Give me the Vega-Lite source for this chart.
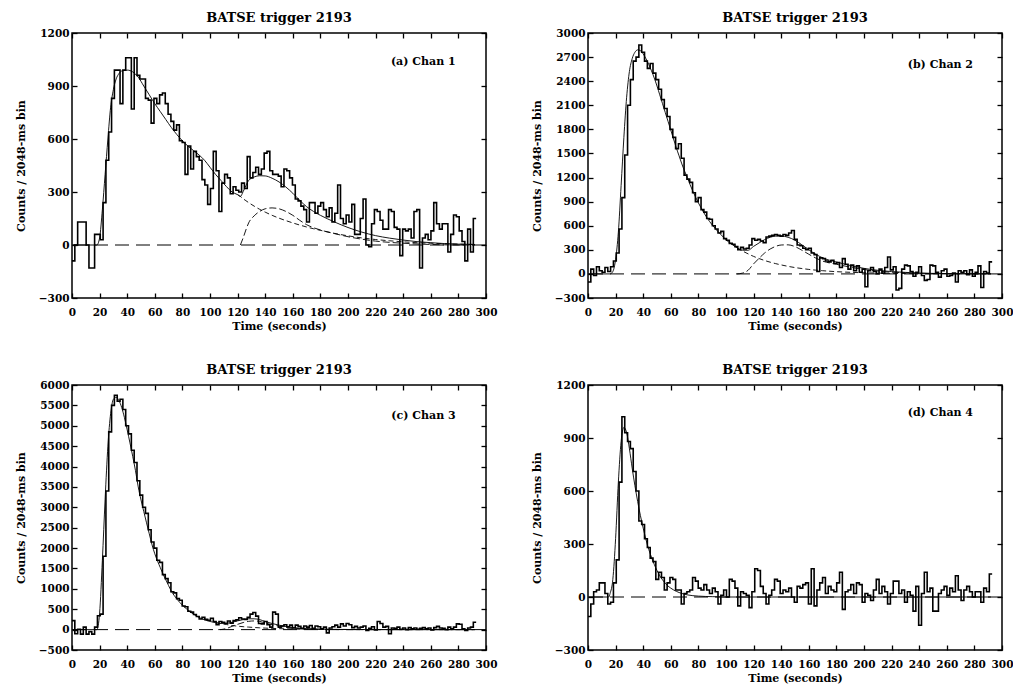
{
"$schema": "https://vega.github.io/schema/vega-lite/v6.json",
"background": "white",
"padding": {"left": 14, "top": 11, "right": 5, "bottom": 5},
"bounds": "flush",
"columns": 2,
"spacing": {"row": 87, "column": 102},
"datasets": {
"hist": [
{"t":0,"a":-90,"b":-100,"c":220,"d":-110},
{"t":2.05,"a":0,"b":60,"c":-100,"d":-40},
{"t":4.1,"a":130,"b":-20,"c":10,"d":30},
{"t":6.14,"a":130,"b":90,"c":-110,"d":40},
{"t":8.19,"a":130,"b":40,"c":60,"d":80},
{"t":10.24,"a":0,"b":20,"c":-110,"d":80},
{"t":12.29,"a":-130,"b":80,"c":-50,"d":20},
{"t":14.34,"a":-130,"b":30,"c":-110,"d":-40},
{"t":16.38,"a":60,"b":90,"c":60,"d":-30},
{"t":18.43,"a":60,"b":160,"c":340,"d":80},
{"t":20.48,"a":30,"b":260,"c":380,"d":210},
{"t":22.53,"a":240,"b":560,"c":1800,"d":650},
{"t":24.58,"a":480,"b":950,"c":3400,"d":1020},
{"t":26.62,"a":640,"b":1480,"c":4850,"d":930},
{"t":28.67,"a":830,"b":2100,"c":5500,"d":880},
{"t":30.72,"a":990,"b":2420,"c":5750,"d":840},
{"t":32.77,"a":990,"b":2650,"c":5600,"d":710},
{"t":34.82,"a":800,"b":2700,"c":5650,"d":600},
{"t":36.86,"a":990,"b":2850,"c":5400,"d":430},
{"t":38.91,"a":1060,"b":2760,"c":5000,"d":410},
{"t":40.96,"a":1060,"b":2650,"c":4800,"d":330},
{"t":43.01,"a":770,"b":2560,"c":4400,"d":280},
{"t":45.06,"a":1060,"b":2620,"c":4100,"d":220},
{"t":47.1,"a":960,"b":2500,"c":3650,"d":200},
{"t":49.15,"a":940,"b":2420,"c":3300,"d":100},
{"t":51.2,"a":940,"b":2300,"c":3000,"d":140},
{"t":53.25,"a":830,"b":2170,"c":2850,"d":110},
{"t":55.3,"a":820,"b":2060,"c":2450,"d":40},
{"t":57.34,"a":690,"b":1960,"c":2150,"d":80},
{"t":59.39,"a":830,"b":1800,"c":2000,"d":110},
{"t":61.44,"a":800,"b":1700,"c":1700,"d":100},
{"t":63.49,"a":850,"b":1560,"c":1650,"d":40},
{"t":65.54,"a":860,"b":1620,"c":1350,"d":40},
{"t":67.58,"a":800,"b":1440,"c":1250,"d":-40},
{"t":69.63,"a":740,"b":1230,"c":1150,"d":20},
{"t":71.68,"a":700,"b":1180,"c":930,"d":30},
{"t":73.73,"a":650,"b":1140,"c":900,"d":40},
{"t":75.78,"a":680,"b":1010,"c":760,"d":110},
{"t":77.82,"a":590,"b":900,"c":720,"d":90},
{"t":79.87,"a":580,"b":950,"c":580,"d":50},
{"t":81.92,"a":400,"b":800,"c":560,"d":40},
{"t":83.97,"a":560,"b":770,"c":450,"d":70},
{"t":86.02,"a":430,"b":690,"c":430,"d":40},
{"t":88.06,"a":530,"b":680,"c":370,"d":20},
{"t":90.11,"a":500,"b":600,"c":320,"d":50},
{"t":92.16,"a":480,"b":560,"c":260,"d":30},
{"t":94.21,"a":370,"b":510,"c":300,"d":-40},
{"t":96.26,"a":340,"b":530,"c":250,"d":10},
{"t":98.3,"a":230,"b":440,"c":230,"d":40},
{"t":100.35,"a":320,"b":420,"c":280,"d":0},
{"t":102.4,"a":530,"b":380,"c":200,"d":100},
{"t":104.45,"a":420,"b":370,"c":120,"d":90},
{"t":106.5,"a":190,"b":340,"c":200,"d":50},
{"t":108.54,"a":350,"b":300,"c":180,"d":-50},
{"t":110.59,"a":400,"b":330,"c":150,"d":30},
{"t":112.64,"a":380,"b":310,"c":210,"d":20},
{"t":114.69,"a":290,"b":320,"c":160,"d":10},
{"t":116.74,"a":330,"b":360,"c":220,"d":-60},
{"t":118.78,"a":310,"b":440,"c":240,"d":30},
{"t":120.83,"a":300,"b":420,"c":290,"d":160},
{"t":122.88,"a":350,"b":430,"c":260,"d":150},
{"t":124.93,"a":320,"b":410,"c":250,"d":60},
{"t":126.98,"a":500,"b":390,"c":300,"d":20},
{"t":129.02,"a":380,"b":460,"c":380,"d":-40},
{"t":131.07,"a":410,"b":470,"c":420,"d":10},
{"t":133.12,"a":440,"b":480,"c":330,"d":40},
{"t":135.17,"a":400,"b":490,"c":150,"d":100},
{"t":137.22,"a":430,"b":480,"c":140,"d":90},
{"t":139.26,"a":520,"b":470,"c":200,"d":20},
{"t":141.31,"a":530,"b":490,"c":120,"d":40},
{"t":143.36,"a":420,"b":480,"c":60,"d":30},
{"t":145.41,"a":400,"b":510,"c":430,"d":50},
{"t":147.46,"a":400,"b":540,"c":380,"d":0},
{"t":149.5,"a":390,"b":430,"c":60,"d":-30},
{"t":151.55,"a":330,"b":360,"c":90,"d":60},
{"t":153.6,"a":430,"b":350,"c":120,"d":50},
{"t":155.65,"a":420,"b":320,"c":70,"d":70},
{"t":157.7,"a":380,"b":300,"c":110,"d":80},
{"t":159.74,"a":340,"b":320,"c":40,"d":-40},
{"t":161.79,"a":260,"b":260,"c":110,"d":160},
{"t":163.84,"a":250,"b":240,"c":80,"d":-50},
{"t":165.89,"a":220,"b":30,"c":30,"d":40},
{"t":167.94,"a":200,"b":200,"c":90,"d":80},
{"t":169.98,"a":130,"b":190,"c":60,"d":110},
{"t":172.03,"a":240,"b":160,"c":100,"d":20},
{"t":174.08,"a":240,"b":150,"c":30,"d":60},
{"t":176.13,"a":180,"b":170,"c":90,"d":40},
{"t":178.18,"a":220,"b":130,"c":70,"d":30},
{"t":180.22,"a":240,"b":140,"c":20,"d":80},
{"t":182.27,"a":200,"b":80,"c":60,"d":140},
{"t":184.32,"a":160,"b":190,"c":-80,"d":-70},
{"t":186.37,"a":210,"b":120,"c":40,"d":30},
{"t":188.42,"a":130,"b":60,"c":70,"d":40},
{"t":190.46,"a":180,"b":110,"c":110,"d":70},
{"t":192.51,"a":340,"b":40,"c":60,"d":20},
{"t":194.56,"a":150,"b":100,"c":140,"d":80},
{"t":196.61,"a":120,"b":20,"c":90,"d":70},
{"t":198.66,"a":170,"b":60,"c":150,"d":-30},
{"t":200.7,"a":130,"b":-160,"c":120,"d":20},
{"t":202.75,"a":230,"b":40,"c":50,"d":10},
{"t":204.8,"a":60,"b":80,"c":80,"d":-20},
{"t":206.85,"a":60,"b":30,"c":40,"d":40},
{"t":208.9,"a":150,"b":0,"c":60,"d":100},
{"t":210.94,"a":260,"b":60,"c":90,"d":20},
{"t":212.99,"a":0,"b":10,"c":-20,"d":60},
{"t":215.04,"a":-10,"b":80,"c":30,"d":30},
{"t":217.09,"a":120,"b":210,"c":70,"d":-40},
{"t":219.14,"a":200,"b":50,"c":-10,"d":20},
{"t":221.18,"a":190,"b":90,"c":200,"d":90},
{"t":223.23,"a":140,"b":-200,"c":150,"d":90},
{"t":225.28,"a":90,"b":-180,"c":60,"d":20},
{"t":227.33,"a":90,"b":60,"c":80,"d":40},
{"t":229.38,"a":200,"b":110,"c":-100,"d":-30},
{"t":231.42,"a":190,"b":100,"c":40,"d":30},
{"t":233.47,"a":100,"b":30,"c":30,"d":10},
{"t":235.52,"a":90,"b":-30,"c":60,"d":-80},
{"t":237.57,"a":-60,"b":20,"c":10,"d":60},
{"t":239.62,"a":90,"b":90,"c":40,"d":-160},
{"t":241.66,"a":80,"b":-20,"c":0,"d":20},
{"t":243.71,"a":90,"b":-80,"c":50,"d":140},
{"t":245.76,"a":40,"b":-70,"c":20,"d":30},
{"t":247.81,"a":190,"b":110,"c":40,"d":50},
{"t":249.86,"a":200,"b":100,"c":10,"d":-80},
{"t":251.9,"a":-130,"b":20,"c":30,"d":-80},
{"t":253.95,"a":40,"b":-40,"c":50,"d":20},
{"t":256,"a":60,"b":40,"c":20,"d":40},
{"t":258.05,"a":30,"b":60,"c":40,"d":60},
{"t":260.1,"a":80,"b":-30,"c":-10,"d":10},
{"t":262.14,"a":240,"b":-20,"c":50,"d":50},
{"t":264.19,"a":120,"b":10,"c":80,"d":30},
{"t":266.24,"a":90,"b":-100,"c":40,"d":120},
{"t":268.29,"a":120,"b":40,"c":30,"d":40},
{"t":270.34,"a":120,"b":20,"c":0,"d":-20},
{"t":272.38,"a":-40,"b":40,"c":60,"d":40},
{"t":274.43,"a":60,"b":-10,"c":20,"d":60},
{"t":276.48,"a":170,"b":50,"c":60,"d":30},
{"t":278.53,"a":160,"b":-30,"c":140,"d":0},
{"t":280.58,"a":80,"b":20,"c":130,"d":30},
{"t":282.62,"a":20,"b":100,"c":20,"d":30},
{"t":284.67,"a":-90,"b":-170,"c":-20,"d":-30},
{"t":286.72,"a":90,"b":30,"c":40,"d":50},
{"t":288.77,"a":-40,"b":10,"c":60,"d":30},
{"t":290.82,"a":150,"b":150,"c":180,"d":130},
{"t":292.86,"a":150,"b":150,"c":180,"d":130}
],
"fit": [
{"p":"a","t":0,"tot":0},{"p":"a","t":18,"tot":0},{"p":"a","t":20,"tot":40},{"p":"a","t":22,"tot":200},{"p":"a","t":24,"tot":400},{"p":"a","t":26,"tot":600},{"p":"a","t":28,"tot":780},{"p":"a","t":30,"tot":880},{"p":"a","t":32,"tot":940},{"p":"a","t":34,"tot":970},{"p":"a","t":36,"tot":985},{"p":"a","t":40,"tot":990},{"p":"a","t":44,"tot":980},{"p":"a","t":48,"tot":950},{"p":"a","t":52,"tot":900},{"p":"a","t":56,"tot":850},{"p":"a","t":60,"tot":800},{"p":"a","t":64,"tot":755},{"p":"a","t":68,"tot":710},{"p":"a","t":72,"tot":665},{"p":"a","t":76,"tot":625},{"p":"a","t":80,"tot":590},{"p":"a","t":84,"tot":560},{"p":"a","t":88,"tot":535},{"p":"a","t":92,"tot":510},{"p":"a","t":96,"tot":480},{"p":"a","t":100,"tot":440},{"p":"a","t":104,"tot":400},{"p":"a","t":108,"tot":365},{"p":"a","t":112,"tot":330},{"p":"a","t":116,"tot":300},
{"p":"a","t":120,"tot":285,"p1":285},{"p":"a","t":122,"tot":275,"p1":275,"p2":0},{"p":"a","t":124,"tot":302,"p1":262,"p2":40},{"p":"a","t":126,"tot":336,"p1":251,"p2":85},{"p":"a","t":128,"tot":365,"p1":240,"p2":125},{"p":"a","t":132,"tot":385,"p1":220,"p2":165},{"p":"a","t":136,"tot":392,"p1":202,"p2":190},{"p":"a","t":140,"tot":391,"p1":186,"p2":205},{"p":"a","t":145,"tot":378,"p1":168,"p2":210},{"p":"a","t":150,"tot":357,"p1":152,"p2":205},{"p":"a","t":155,"tot":328,"p1":138,"p2":190},{"p":"a","t":160,"tot":293,"p1":125,"p2":168},{"p":"a","t":165,"tot":253,"p1":113,"p2":140},{"p":"a","t":170,"tot":217,"p1":102,"p2":115},{"p":"a","t":175,"tot":190,"p1":92,"p2":98},{"p":"a","t":180,"tot":168,"p1":83,"p2":85},{"p":"a","t":190,"tot":131,"p1":66,"p2":65},{"p":"a","t":200,"tot":99,"p1":52,"p2":47},{"p":"a","t":210,"tot":73,"p1":40,"p2":33},{"p":"a","t":220,"tot":53,"p1":31,"p2":22},{"p":"a","t":230,"tot":39,"p1":24,"p2":15},{"p":"a","t":240,"tot":28,"p1":18,"p2":10},{"p":"a","t":250,"tot":19,"p1":13,"p2":6},{"p":"a","t":260,"tot":13,"p1":10,"p2":3},{"p":"a","t":270,"tot":8,"p1":7,"p2":1},{"p":"a","t":280,"tot":5,"p1":5,"p2":0},{"p":"a","t":292,"tot":3,"p1":3,"p2":0},
{"p":"b","t":0,"tot":0},{"p":"b","t":16,"tot":0},{"p":"b","t":18,"tot":30},{"p":"b","t":20,"tot":180},{"p":"b","t":22,"tot":520},{"p":"b","t":24,"tot":1100},{"p":"b","t":26,"tot":1700},{"p":"b","t":28,"tot":2200},{"p":"b","t":30,"tot":2520},{"p":"b","t":32,"tot":2680},{"p":"b","t":34,"tot":2760},{"p":"b","t":36,"tot":2790},{"p":"b","t":38,"tot":2780},{"p":"b","t":40,"tot":2740},{"p":"b","t":42,"tot":2680},{"p":"b","t":44,"tot":2610},{"p":"b","t":46,"tot":2530},{"p":"b","t":48,"tot":2440},{"p":"b","t":50,"tot":2340},{"p":"b","t":52,"tot":2230},{"p":"b","t":54,"tot":2120},{"p":"b","t":56,"tot":2010},{"p":"b","t":58,"tot":1900},{"p":"b","t":60,"tot":1790},{"p":"b","t":62,"tot":1680},{"p":"b","t":64,"tot":1570},{"p":"b","t":66,"tot":1470},{"p":"b","t":68,"tot":1370},{"p":"b","t":70,"tot":1280},{"p":"b","t":72,"tot":1200},{"p":"b","t":74,"tot":1110},{"p":"b","t":76,"tot":1030},{"p":"b","t":78,"tot":955},{"p":"b","t":80,"tot":885},{"p":"b","t":82,"tot":820},{"p":"b","t":84,"tot":760},{"p":"b","t":86,"tot":705},{"p":"b","t":88,"tot":655},{"p":"b","t":90,"tot":610},{"p":"b","t":92,"tot":570},{"p":"b","t":94,"tot":530},{"p":"b","t":96,"tot":495},{"p":"b","t":98,"tot":460},{"p":"b","t":100,"tot":425},{"p":"b","t":104,"tot":372},
{"p":"b","t":108,"tot":325,"p1":325,"p2":0},{"p":"b","t":112,"tot":295,"p1":285,"p2":10},{"p":"b","t":116,"tot":295,"p1":250,"p2":45},{"p":"b","t":120,"tot":343,"p1":218,"p2":125},{"p":"b","t":124,"tot":386,"p1":191,"p2":195},{"p":"b","t":128,"tot":427,"p1":167,"p2":260},{"p":"b","t":132,"tot":456,"p1":146,"p2":310},{"p":"b","t":136,"tot":471,"p1":128,"p2":343},{"p":"b","t":140,"tot":472,"p1":112,"p2":360},{"p":"b","t":145,"tot":456,"p1":94,"p2":362},{"p":"b","t":150,"tot":419,"p1":79,"p2":340},{"p":"b","t":155,"tot":362,"p1":67,"p2":295},{"p":"b","t":160,"tot":301,"p1":56,"p2":245},{"p":"b","t":165,"tot":245,"p1":47,"p2":198},{"p":"b","t":170,"tot":200,"p1":40,"p2":160},{"p":"b","t":180,"tot":148,"p1":28,"p2":120},{"p":"b","t":190,"tot":105,"p1":20,"p2":85},{"p":"b","t":200,"tot":69,"p1":14,"p2":55},{"p":"b","t":210,"tot":45,"p1":10,"p2":35},{"p":"b","t":220,"tot":29,"p1":7,"p2":22},{"p":"b","t":230,"tot":19,"p1":5,"p2":14},{"p":"b","t":240,"tot":11,"p1":3,"p2":8},{"p":"b","t":260,"tot":4,"p1":1,"p2":3},{"p":"b","t":292,"tot":1,"p1":0,"p2":0},
{"p":"c","t":0,"tot":0},{"p":"c","t":18,"tot":0},{"p":"c","t":19,"tot":100},{"p":"c","t":20,"tot":400},{"p":"c","t":22,"tot":1700},{"p":"c","t":24,"tot":3200},{"p":"c","t":26,"tot":4500},{"p":"c","t":28,"tot":5300},{"p":"c","t":30,"tot":5650},{"p":"c","t":32,"tot":5700},{"p":"c","t":34,"tot":5620},{"p":"c","t":36,"tot":5450},{"p":"c","t":38,"tot":5200},{"p":"c","t":40,"tot":4900},{"p":"c","t":42,"tot":4580},{"p":"c","t":44,"tot":4250},{"p":"c","t":46,"tot":3900},{"p":"c","t":48,"tot":3500},{"p":"c","t":50,"tot":3180},{"p":"c","t":52,"tot":2900},{"p":"c","t":54,"tot":2620},{"p":"c","t":56,"tot":2350},{"p":"c","t":58,"tot":2080},{"p":"c","t":60,"tot":1860},{"p":"c","t":62,"tot":1680},{"p":"c","t":64,"tot":1520},{"p":"c","t":66,"tot":1360},{"p":"c","t":68,"tot":1220},{"p":"c","t":70,"tot":1080},{"p":"c","t":72,"tot":940},{"p":"c","t":74,"tot":840},{"p":"c","t":76,"tot":750},{"p":"c","t":78,"tot":670},{"p":"c","t":80,"tot":600},{"p":"c","t":84,"tot":480},{"p":"c","t":88,"tot":380},{"p":"c","t":92,"tot":300},{"p":"c","t":96,"tot":240},{"p":"c","t":100,"tot":200},{"p":"c","t":104,"tot":170,"p1":170},
{"p":"c","t":106,"tot":160,"p1":159,"p2":0},{"p":"c","t":108,"tot":150,"p1":148,"p2":2},{"p":"c","t":112,"tot":155,"p1":125,"p2":30},{"p":"c","t":116,"tot":180,"p1":100,"p2":80},{"p":"c","t":120,"tot":215,"p1":85,"p2":130},{"p":"c","t":124,"tot":245,"p1":72,"p2":173},{"p":"c","t":128,"tot":265,"p1":62,"p2":203},{"p":"c","t":132,"tot":265,"p1":52,"p2":213},{"p":"c","t":136,"tot":245,"p1":44,"p2":201},{"p":"c","t":140,"tot":200,"p1":37,"p2":163},{"p":"c","t":145,"tot":150,"p1":30,"p2":120},{"p":"c","t":150,"tot":110,"p1":24,"p2":86},{"p":"c","t":155,"tot":75,"p1":19,"p2":56},{"p":"c","t":160,"tot":50,"p1":15,"p2":35},{"p":"c","t":170,"tot":25,"p1":10,"p2":15},{"p":"c","t":180,"tot":12,"p1":6,"p2":6},{"p":"c","t":190,"tot":6,"p1":4,"p2":2},{"p":"c","t":200,"tot":3,"p1":3,"p2":0},{"p":"c","t":220,"tot":1,"p1":1,"p2":0},{"p":"c","t":250,"tot":0,"p1":0,"p2":0},{"p":"c","t":292,"tot":0,"p1":0,"p2":0},
{"p":"d","t":0,"tot":0},{"p":"d","t":15,"tot":0},{"p":"d","t":16,"tot":20},{"p":"d","t":18,"tot":100},{"p":"d","t":20,"tot":330},{"p":"d","t":22,"tot":650},{"p":"d","t":24,"tot":880},{"p":"d","t":26,"tot":960},{"p":"d","t":28,"tot":930},{"p":"d","t":30,"tot":840},{"p":"d","t":32,"tot":730},{"p":"d","t":34,"tot":630},{"p":"d","t":36,"tot":540},{"p":"d","t":38,"tot":460},{"p":"d","t":40,"tot":390},{"p":"d","t":42,"tot":325},{"p":"d","t":44,"tot":270},{"p":"d","t":46,"tot":225},{"p":"d","t":48,"tot":185},{"p":"d","t":50,"tot":150},{"p":"d","t":52,"tot":120},{"p":"d","t":54,"tot":97},{"p":"d","t":56,"tot":78},{"p":"d","t":58,"tot":62},{"p":"d","t":60,"tot":50},{"p":"d","t":64,"tot":32},{"p":"d","t":68,"tot":20},{"p":"d","t":72,"tot":12},{"p":"d","t":80,"tot":5},{"p":"d","t":90,"tot":2},{"p":"d","t":100,"tot":0},{"p":"d","t":292,"tot":0}
]
},
"concat": [
{
"title": "BATSE trigger 2193",
"width": 414, "height": 265,
"resolve": {"axis": {"x": "independent", "y": "independent"}},
"layer": [
{"data": {"values": [{}]}, "mark": {"type": "rule", "color": "black", "strokeWidth": 1, "strokeDash": [14, 7]}, "encoding": {"y": {"datum": 0, "type": "quantitative", "axis": null}}},
{"data": {"name": "hist"}, "mark": {"type": "line", "interpolate": "step-after", "color": "black", "strokeWidth": 1.6},
 "encoding": {
  "x": {"field": "t", "type": "quantitative", "scale": {"domain": [0, 300], "nice": false, "zero": false}, "axis": {"orient": "bottom", "values": [0,20,40,60,80,100,120,140,160,180,200,220,240,260,280,300], "title": "Time (seconds)"}},
  "y": {"field": "a", "type": "quantitative", "scale": {"domain": [-300, 1200], "nice": false, "zero": false}, "axis": {"orient": "left", "format": "d", "values": [-300,0,300,600,900,1200], "title": "Counts / 2048-ms bin"}}}},
{"data": {"name": "fit"}, "transform": [{"filter": "datum.p == 'a'"}], "mark": {"type": "line", "interpolate": "monotone", "color": "black", "strokeWidth": 0.9},
 "encoding": {
  "x": {"field": "t", "type": "quantitative", "axis": {"orient": "top", "values": [0,20,40,60,80,100,120,140,160,180,200,220,240,260,280,300], "labels": false, "title": null}},
  "y": {"field": "tot", "type": "quantitative", "axis": {"orient": "right", "values": [-300,0,300,600,900,1200], "labels": false, "title": null}}}},
{"data": {"name": "fit"}, "transform": [{"filter": "datum.p == 'a' && isValid(datum.p1)"}], "mark": {"type": "line", "interpolate": "monotone", "color": "black", "strokeWidth": 0.9, "strokeDash": [5, 3]},
 "encoding": {"x": {"field": "t", "type": "quantitative", "axis": null}, "y": {"field": "p1", "type": "quantitative", "axis": null}}},
{"data": {"name": "fit"}, "transform": [{"filter": "datum.p == 'a' && isValid(datum.p2)"}], "mark": {"type": "line", "interpolate": "monotone", "color": "black", "strokeWidth": 0.9, "strokeDash": [7, 3]},
 "encoding": {"x": {"field": "t", "type": "quantitative", "axis": null}, "y": {"field": "p2", "type": "quantitative", "axis": null}}},
{"data": {"values": [{}]}, "mark": {"type": "text", "text": "(a) Chan 1", "align": "right", "baseline": "middle", "font": "DejaVu Serif", "fontWeight": "bold", "fontSize": 11, "color": "black"},
 "encoding": {"x": {"datum": 278, "type": "quantitative", "axis": null}, "y": {"datum": 1036, "type": "quantitative", "axis": null}}}
]
},
{
"title": "BATSE trigger 2193",
"width": 414, "height": 265,
"resolve": {"axis": {"x": "independent", "y": "independent"}},
"layer": [
{"data": {"values": [{}]}, "mark": {"type": "rule", "color": "black", "strokeWidth": 1, "strokeDash": [14, 7]}, "encoding": {"y": {"datum": 0, "type": "quantitative", "axis": null}}},
{"data": {"name": "hist"}, "mark": {"type": "line", "interpolate": "step-after", "color": "black", "strokeWidth": 1.6},
 "encoding": {
  "x": {"field": "t", "type": "quantitative", "scale": {"domain": [0, 300], "nice": false, "zero": false}, "axis": {"orient": "bottom", "values": [0,20,40,60,80,100,120,140,160,180,200,220,240,260,280,300], "title": "Time (seconds)"}},
  "y": {"field": "b", "type": "quantitative", "scale": {"domain": [-300, 3000], "nice": false, "zero": false}, "axis": {"orient": "left", "format": "d", "values": [-300,0,300,600,900,1200,1500,1800,2100,2400,2700,3000], "title": "Counts / 2048-ms bin"}}}},
{"data": {"name": "fit"}, "transform": [{"filter": "datum.p == 'b'"}], "mark": {"type": "line", "interpolate": "monotone", "color": "black", "strokeWidth": 0.9},
 "encoding": {
  "x": {"field": "t", "type": "quantitative", "axis": {"orient": "top", "values": [0,20,40,60,80,100,120,140,160,180,200,220,240,260,280,300], "labels": false, "title": null}},
  "y": {"field": "tot", "type": "quantitative", "axis": {"orient": "right", "values": [-300,0,300,600,900,1200,1500,1800,2100,2400,2700,3000], "labels": false, "title": null}}}},
{"data": {"name": "fit"}, "transform": [{"filter": "datum.p == 'b' && isValid(datum.p1)"}], "mark": {"type": "line", "interpolate": "monotone", "color": "black", "strokeWidth": 0.9, "strokeDash": [5, 3]},
 "encoding": {"x": {"field": "t", "type": "quantitative", "axis": null}, "y": {"field": "p1", "type": "quantitative", "axis": null}}},
{"data": {"name": "fit"}, "transform": [{"filter": "datum.p == 'b' && isValid(datum.p2)"}], "mark": {"type": "line", "interpolate": "monotone", "color": "black", "strokeWidth": 0.9, "strokeDash": [7, 3]},
 "encoding": {"x": {"field": "t", "type": "quantitative", "axis": null}, "y": {"field": "p2", "type": "quantitative", "axis": null}}},
{"data": {"values": [{}]}, "mark": {"type": "text", "text": "(b) Chan 2", "align": "right", "baseline": "middle", "font": "DejaVu Serif", "fontWeight": "bold", "fontSize": 11, "color": "black"},
 "encoding": {"x": {"datum": 279, "type": "quantitative", "axis": null}, "y": {"datum": 2600, "type": "quantitative", "axis": null}}}
]
},
{
"title": "BATSE trigger 2193",
"width": 414, "height": 265,
"resolve": {"axis": {"x": "independent", "y": "independent"}},
"layer": [
{"data": {"values": [{}]}, "mark": {"type": "rule", "color": "black", "strokeWidth": 1, "strokeDash": [14, 7]}, "encoding": {"y": {"datum": 0, "type": "quantitative", "axis": null}}},
{"data": {"name": "hist"}, "mark": {"type": "line", "interpolate": "step-after", "color": "black", "strokeWidth": 1.6},
 "encoding": {
  "x": {"field": "t", "type": "quantitative", "scale": {"domain": [0, 300], "nice": false, "zero": false}, "axis": {"orient": "bottom", "values": [0,20,40,60,80,100,120,140,160,180,200,220,240,260,280,300], "title": "Time (seconds)"}},
  "y": {"field": "c", "type": "quantitative", "scale": {"domain": [-500, 6000], "nice": false, "zero": false}, "axis": {"orient": "left", "format": "d", "values": [-500,0,500,1000,1500,2000,2500,3000,3500,4000,4500,5000,5500,6000], "title": "Counts / 2048-ms bin"}}}},
{"data": {"name": "fit"}, "transform": [{"filter": "datum.p == 'c'"}], "mark": {"type": "line", "interpolate": "monotone", "color": "black", "strokeWidth": 0.9},
 "encoding": {
  "x": {"field": "t", "type": "quantitative", "axis": {"orient": "top", "values": [0,20,40,60,80,100,120,140,160,180,200,220,240,260,280,300], "labels": false, "title": null}},
  "y": {"field": "tot", "type": "quantitative", "axis": {"orient": "right", "values": [-500,0,500,1000,1500,2000,2500,3000,3500,4000,4500,5000,5500,6000], "labels": false, "title": null}}}},
{"data": {"name": "fit"}, "transform": [{"filter": "datum.p == 'c' && isValid(datum.p1)"}], "mark": {"type": "line", "interpolate": "monotone", "color": "black", "strokeWidth": 0.9, "strokeDash": [5, 3]},
 "encoding": {"x": {"field": "t", "type": "quantitative", "axis": null}, "y": {"field": "p1", "type": "quantitative", "axis": null}}},
{"data": {"name": "fit"}, "transform": [{"filter": "datum.p == 'c' && isValid(datum.p2)"}], "mark": {"type": "line", "interpolate": "monotone", "color": "black", "strokeWidth": 0.9, "strokeDash": [7, 3]},
 "encoding": {"x": {"field": "t", "type": "quantitative", "axis": null}, "y": {"field": "p2", "type": "quantitative", "axis": null}}},
{"data": {"values": [{}]}, "mark": {"type": "text", "text": "(c) Chan 3", "align": "right", "baseline": "middle", "font": "DejaVu Serif", "fontWeight": "bold", "fontSize": 11, "color": "black"},
 "encoding": {"x": {"datum": 278, "type": "quantitative", "axis": null}, "y": {"datum": 5240, "type": "quantitative", "axis": null}}}
]
},
{
"title": "BATSE trigger 2193",
"width": 414, "height": 265,
"resolve": {"axis": {"x": "independent", "y": "independent"}},
"layer": [
{"data": {"values": [{}]}, "mark": {"type": "rule", "color": "black", "strokeWidth": 1, "strokeDash": [14, 7]}, "encoding": {"y": {"datum": 0, "type": "quantitative", "axis": null}}},
{"data": {"name": "hist"}, "mark": {"type": "line", "interpolate": "step-after", "color": "black", "strokeWidth": 1.6},
 "encoding": {
  "x": {"field": "t", "type": "quantitative", "scale": {"domain": [0, 300], "nice": false, "zero": false}, "axis": {"orient": "bottom", "values": [0,20,40,60,80,100,120,140,160,180,200,220,240,260,280,300], "title": "Time (seconds)"}},
  "y": {"field": "d", "type": "quantitative", "scale": {"domain": [-300, 1200], "nice": false, "zero": false}, "axis": {"orient": "left", "format": "d", "values": [-300,0,300,600,900,1200], "title": "Counts / 2048-ms bin"}}}},
{"data": {"name": "fit"}, "transform": [{"filter": "datum.p == 'd'"}], "mark": {"type": "line", "interpolate": "monotone", "color": "black", "strokeWidth": 0.9},
 "encoding": {
  "x": {"field": "t", "type": "quantitative", "axis": {"orient": "top", "values": [0,20,40,60,80,100,120,140,160,180,200,220,240,260,280,300], "labels": false, "title": null}},
  "y": {"field": "tot", "type": "quantitative", "axis": {"orient": "right", "values": [-300,0,300,600,900,1200], "labels": false, "title": null}}}},
{"data": {"values": [{}]}, "mark": {"type": "text", "text": "(d) Chan 4", "align": "right", "baseline": "middle", "font": "DejaVu Serif", "fontWeight": "bold", "fontSize": 11, "color": "black"},
 "encoding": {"x": {"datum": 279, "type": "quantitative", "axis": null}, "y": {"datum": 1039, "type": "quantitative", "axis": null}}}
]
}
],
"config": {
 "font": "DejaVu Serif",
 "view": {"stroke": "black", "strokeWidth": 1.5},
 "axis": {"domain": false, "grid": false, "ticks": true, "tickSize": -5, "tickWidth": 1.3, "tickColor": "black", "labelFont": "DejaVu Serif", "labelFontSize": 10.5, "labelFontWeight": "bold", "labelColor": "black", "labelOverlap": false, "labelFlush": false, "titleFont": "DejaVu Serif", "titleFontSize": 11, "titleFontWeight": "bold", "titleColor": "black"},
 "axisX": {"labelPadding": 14, "titlePadding": 3},
 "axisY": {"labelPadding": 8, "titlePadding": 12},
 "title": {"font": "DejaVu Serif", "fontSize": 13, "fontWeight": "bold", "color": "black", "offset": 3}
}
}
